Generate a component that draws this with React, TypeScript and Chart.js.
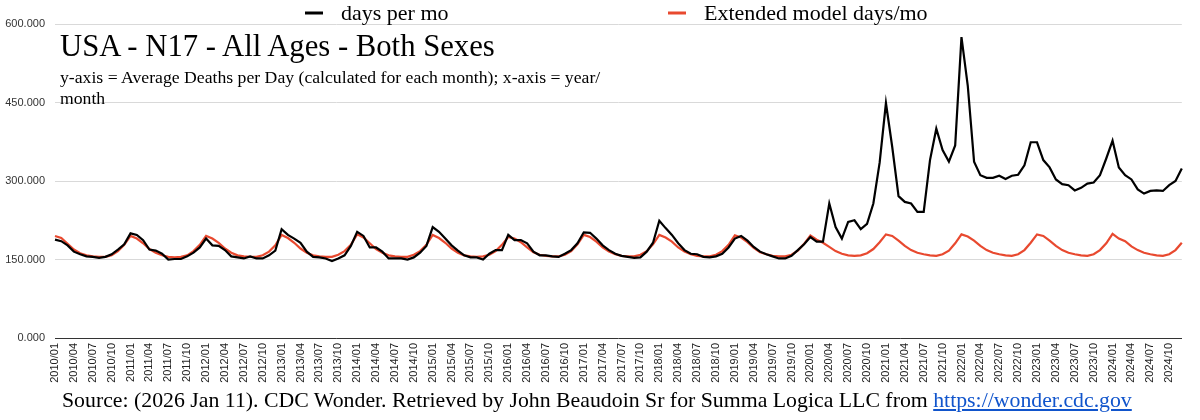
import React, { useEffect, useRef } from 'react';
import { Chart, registerables } from 'chart.js';

Chart.register(...registerables);

const YEARS = [2010, 2011, 2012, 2013, 2014, 2015, 2016, 2017, 2018, 2019, 2020, 2021, 2022, 2023, 2024];
const MONTHS = ['01', '02', '03', '04', '05', '06', '07', '08', '09', '10', '11', '12'];
const CATEGORIES = YEARS.flatMap((y) => MONTHS.map((m) => `${y}/${m}`));
const TICK_MONTHS = ['01', '04', '07', '10'];
const Y_TICKS = [0, 150, 300, 450, 600];

const SERIES_LABELS = ['days per mo', 'Extended model days/mo'];

const DAYS_PER_MO = [
  188, 185, 177, 165, 160, 156, 155, 153, 155, 160, 169, 179,
  200, 197, 187, 169, 167, 161, 150, 151, 151, 156, 163, 173,
  190, 177, 176, 168, 156, 154, 152, 156, 152, 152, 158, 167,
  208, 197, 190, 182, 165, 155, 154, 152, 147, 152, 158, 176,
  203, 195, 173, 173, 165, 152, 152, 152, 150, 154, 163, 176,
  212, 203, 190, 177, 167, 158, 154, 154, 150, 161, 168, 168,
  197, 187, 187, 181, 165, 158, 158, 156, 155, 161, 168, 181,
  202, 201, 190, 177, 168, 161, 157, 155, 153, 154, 165, 182,
  224, 210, 197, 181, 168, 161, 160, 155, 154, 156, 161, 173,
  190, 195, 186, 174, 165, 160, 156, 152, 152, 157, 168, 179,
  193, 184, 184, 257, 212, 190, 222, 225, 208, 218, 257, 335,
  449, 365, 271, 260, 257, 241, 241, 340, 400, 359, 337, 368,
  575, 482, 337, 311, 306, 306, 310, 304, 310, 312, 330, 374,
  374, 340, 326, 303, 294, 292, 282, 287, 295, 297, 311, 343,
  377, 326, 311, 303, 284, 276, 281, 282, 281, 292, 300, 324,
];

const EXTENDED_MODEL = [
  195, 191, 180, 169, 162, 158, 156, 155, 155, 158, 166, 178,
  195, 190, 181, 170, 163, 158, 155, 154, 155, 158, 166, 178,
  195, 190, 182, 171, 163, 158, 156, 155, 155, 158, 165, 177,
  197, 191, 182, 171, 163, 158, 156, 155, 155, 159, 166, 178,
  198, 192, 181, 170, 163, 158, 156, 155, 155, 159, 166, 178,
  197, 191, 182, 171, 163, 158, 156, 155, 156, 159, 166, 178,
  193, 190, 183, 173, 164, 159, 157, 156, 156, 159, 166, 179,
  197, 193, 184, 173, 165, 160, 157, 156, 156, 159, 166, 179,
  197, 192, 184, 173, 165, 160, 157, 156, 156, 159, 166, 178,
  196, 192, 183, 172, 164, 160, 157, 156, 156, 159, 167, 180,
  196, 188, 182, 174, 166, 161, 158, 157, 158, 162, 170, 183,
  198, 195, 186, 176, 168, 163, 160, 158, 157, 160, 167, 181,
  198, 194, 186, 176, 168, 163, 160, 158, 157, 160, 168, 182,
  198, 195, 186, 176, 168, 163, 160, 158, 157, 160, 168, 181,
  199, 190, 185, 175, 168, 163, 160, 158, 157, 160, 168, 182,
];

const BLACK = '#000000';
const RED = '#e8492f';
const SERIF = '"Liberation Serif", "Times New Roman", serif';
const SANS = '"Liberation Sans", Arial, sans-serif';

const topLegend = {
  id: 'topLegend',
  afterDraw(chart: any) {
    const ctx = chart.ctx;
    const starts = [305, 668];
    chart.data.datasets.forEach((ds: any, i: number) => {
      const x = starts[i];
      const y = 13;
      ctx.save();
      ctx.strokeStyle = ds.borderColor;
      ctx.lineWidth = 3;
      ctx.beginPath();
      ctx.moveTo(x, y);
      ctx.lineTo(x + 18, y);
      ctx.stroke();
      ctx.fillStyle = '#000';
      ctx.font = `22px ${SERIF}`;
      ctx.textBaseline = 'middle';
      ctx.textAlign = 'left';
      ctx.fillText(ds.label, x + 36, y + 1);
      ctx.restore();
    });
  },
};

export default function App() {
  const canvasRef = useRef<HTMLCanvasElement | null>(null);

  useEffect(() => {
    if (!canvasRef.current) return;
    const chart = new Chart(canvasRef.current, {
      type: 'line',
      data: {
        labels: CATEGORIES,
        datasets: [
          {
            label: SERIES_LABELS[0],
            data: DAYS_PER_MO,
            borderColor: BLACK,
            backgroundColor: BLACK,
            borderWidth: 2.2,
            pointRadius: 0,
            tension: 0,
            order: 0,
          },
          {
            label: SERIES_LABELS[1],
            data: EXTENDED_MODEL,
            borderColor: RED,
            backgroundColor: RED,
            borderWidth: 2.2,
            pointRadius: 0,
            tension: 0,
            order: 1,
          },
        ],
      },
      options: {
        animation: false,
        responsive: true,
        maintainAspectRatio: false,
        layout: { padding: { top: 24, right: 5, bottom: 37, left: 0 } },
        plugins: {
          legend: { display: false },
          tooltip: { enabled: false },
          title: { display: false },
        },
        scales: {
          x: {
            type: 'category',
            offset: false,
            grid: { display: false, drawTicks: false },
            border: { display: true, color: '#333333', width: 1 },
            afterFit: (scale: any) => {
              scale.height = 45;
            },
            ticks: {
              autoSkip: false,
              maxRotation: 90,
              minRotation: 90,
              padding: 5,
              color: '#222222',
              font: { family: SANS, size: 11 },
              callback: (_v: any, idx: number) => {
                const lab = CATEGORIES[idx];
                return TICK_MONTHS.includes(lab.slice(5)) ? lab : '';
              },
            },
          },
          y: {
            min: Y_TICKS[0],
            max: Y_TICKS[Y_TICKS.length - 1],
            grid: { color: '#d9d9d9', lineWidth: 1, drawTicks: false },
            border: { display: false },
            afterFit: (scale: any) => {
              scale.width = 55;
            },
            afterBuildTicks: (scale: any) => {
              scale.ticks = Y_TICKS.map((v) => ({ value: v }));
            },
            ticks: {
              padding: 10,
              color: '#333333',
              font: { family: SANS, size: 11 },
              callback: (v: any) => Number(v).toFixed(3),
            },
          },
        },
      },
      plugins: [topLegend],
    });
    return () => chart.destroy();
  }, []);

  return (
    <div style={{ position: 'absolute', left: 0, top: 0, width: 1200, height: 420, background: '#fff' }}>
      <canvas ref={canvasRef} style={{ position: 'absolute', left: 0, top: 0 }} />
      <div
        style={{
          position: 'absolute',
          left: 60,
          top: 31,
          fontFamily: SERIF,
          fontSize: 30.7,
          lineHeight: '30.7px',
          color: '#000',
          whiteSpace: 'nowrap',
        }}
      >
        USA - N17 - All Ages - Both Sexes
      </div>
      <div
        style={{
          position: 'absolute',
          left: 60,
          top: 67,
          fontFamily: SERIF,
          fontSize: 17.7,
          lineHeight: '21px',
          color: '#000',
          whiteSpace: 'nowrap',
        }}
      >
        y-axis = Average Deaths per Day (calculated for each month); x-axis = year/
        <br />
        month
      </div>
      <div
        style={{
          position: 'absolute',
          left: 62,
          top: 389,
          fontFamily: SERIF,
          fontSize: 21.8,
          lineHeight: '22px',
          color: '#000',
          whiteSpace: 'nowrap',
        }}
      >
        Source: (2026 Jan 11). CDC Wonder. Retrieved by John Beaudoin Sr for Summa Logica LLC from{' '}
        <a href="https://wonder.cdc.gov" style={{ color: '#1155cc', textDecoration: 'underline' }}>
          https://wonder.cdc.gov
        </a>
      </div>
    </div>
  );
}
